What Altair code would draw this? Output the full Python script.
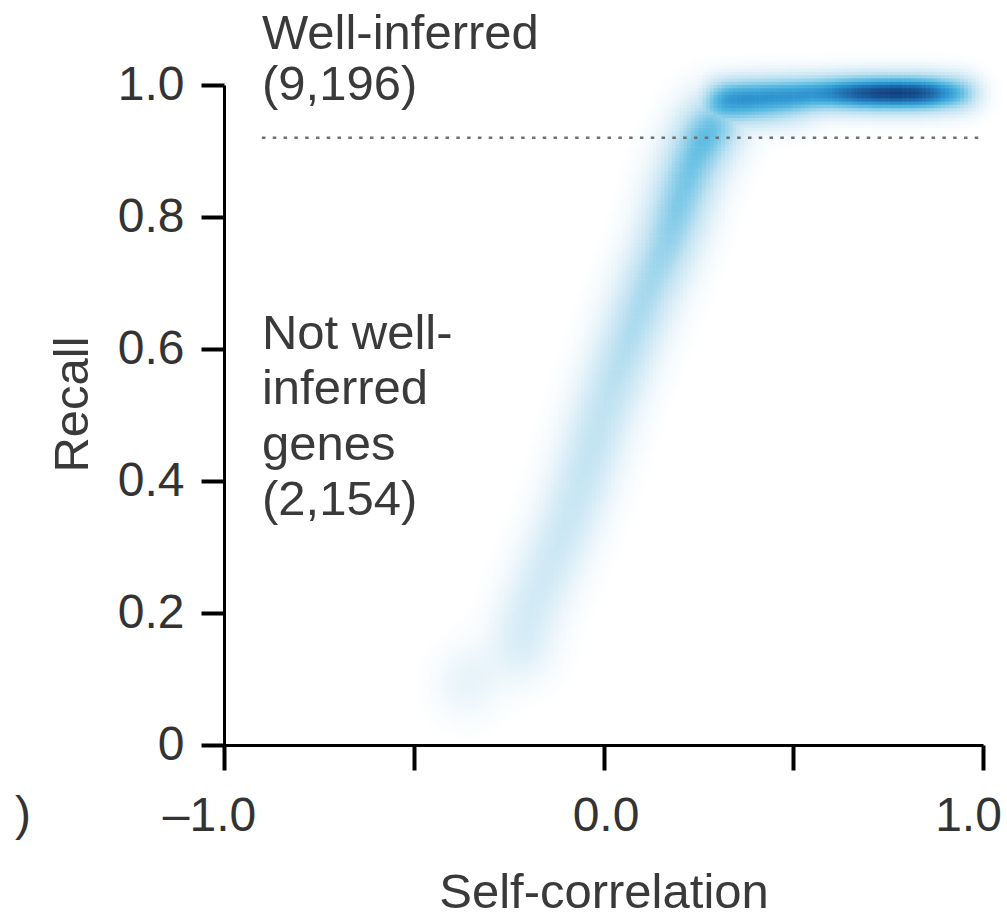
import altair as alt
import numpy as np
import pandas as pd

# ---- values ----
# rising ridge: recall level, self-correlation centre, relative density
rise_recall = [0.08, 0.11, 0.13, 0.16, 0.20, 0.24, 0.28, 0.32, 0.36, 0.40, 0.44, 0.48,
               0.52, 0.56, 0.60, 0.64, 0.68, 0.72, 0.76, 0.80, 0.84, 0.88, 0.92, 0.95]
rise_corr = [-0.37, -0.35, -0.22, -0.22, -0.20, -0.17, -0.14, -0.11, -0.085, -0.06, -0.04, -0.02,
             0.005, 0.03, 0.055, 0.08, 0.105, 0.135, 0.165, 0.185, 0.205, 0.23, 0.26, 0.30]
rise_dens = [0.14, 0.13, 0.16, 0.19, 0.23, 0.25, 0.26, 0.27, 0.28, 0.29, 0.30, 0.31,
             0.33, 0.35, 0.37, 0.39, 0.41, 0.44, 0.47, 0.50, 0.53, 0.56, 0.60, 0.62]
# plateau near recall = 1: self-correlation position, relative density
plat_corr = [0.30, 0.35, 0.40, 0.45, 0.50, 0.55, 0.60, 0.65, 0.70, 0.75, 0.80, 0.85, 0.90, 0.95]
plat_dens = [0.46, 0.50, 0.54, 0.58, 0.63, 0.69, 0.79, 0.90, 0.97, 1.00, 1.00, 0.94, 0.72, 0.58]
plat_recall = 0.985
# lighter shoulder under the plateau, where the ridge bends
bend_corr = [0.27, 0.32, 0.37, 0.42, 0.47, 0.52]
bend_dens = [0.45, 0.43, 0.38, 0.32, 0.25, 0.17]
bend_recall = 0.958

threshold = 0.92
x_ticks = [-1.0, -0.5, 0.0, 0.5, 1.0]
y_ticks = [0.0, 0.2, 0.4, 0.6, 0.8, 1.0]

ann_text = ["Well-inferred", "(9,196)", "Not well-", "inferred", "genes", "(2,154)"]
ann_x = [-0.9] * 6
ann_y = [1.0545, 0.977, 0.600, 0.5167, 0.4318, 0.3485]

# ---- smoothed density table (kernel rendering of the read ridge) ----
xs = np.arange(-0.62, 1.06, 0.01)
ys = np.arange(0.0, 1.07, 0.005)
GX, GY = np.meshgrid(xs, ys)
sxr, syr = 0.06, 0.035
rise = np.zeros_like(GX)
for yc, xc, d in zip(rise_recall, rise_corr, rise_dens):
    rise += d * np.exp(-0.5 * ((GX - xc) / sxr) ** 2 - 0.5 * ((GY - yc) / syr) ** 2)
rise /= 2.507 * syr / 0.04
sxp, syp = 0.035, 0.02
plat = np.zeros_like(GX)
for xc, d in zip(plat_corr, plat_dens):
    plat += d * np.exp(-0.5 * ((GX - xc) / sxp) ** 2 - 0.5 * ((GY - plat_recall) / syp) ** 2)
plat /= 2.507 * sxp / 0.05
bend = np.zeros_like(GX)
for xc, d in zip(bend_corr, bend_dens):
    bend += d * np.exp(-0.5 * ((GX - xc) / 0.04) ** 2 - 0.5 * ((GY - bend_recall) / 0.022) ** 2)
bend /= 2.507 * 0.04 / 0.05
dens = np.clip(np.maximum(rise, plat + bend), 0, 1)
mask = dens > 0.008
cells = pd.DataFrame({
    "x0": GX[mask], "x1": GX[mask] + 0.0115,
    "y0": GY[mask], "y1": GY[mask] + 0.0058,
    "d": dens[mask],
})

rule_df = pd.DataFrame({"x": [-0.9], "x2": [1.0], "y": [threshold]})
ann_df = pd.DataFrame({"x": ann_x, "y": ann_y, "t": ann_text})
edge_df = pd.DataFrame({"x": [-1.53], "y": [-0.129], "t": [")"]})

FONT = "Liberation Sans"
xscale = alt.Scale(domain=[-1, 1], nice=False, zero=False)
yscale = alt.Scale(domain=[0, 1], nice=False, zero=False)
xaxis = alt.Axis(
    values=x_ticks, title="Self-correlation", grid=False,
    labelExpr="datum.value == -1 ? '–1.0' : (datum.value == 0 ? '0.0' : (datum.value == 1 ? '1.0' : ''))",
    labelOverlap=False, labelFlush=False, labelBound=False,
    labelBaseline="alphabetic", labelPadding=60, tickSize=25,
    labelOffset={"condition": {"test": "datum.value == 0", "value": 2}, "value": -15},
    titleBaseline="alphabetic", titleY=162,
)
yaxis = alt.Axis(
    values=y_ticks, title="Recall", grid=False,
    labelExpr="datum.value == 0 ? '0' : format(datum.value, '.1f')",
    labelOverlap=False, labelFlush=False, labelBound=False,
    labelPadding=17, tickSize=23,
    titleBaseline="alphabetic", titleX=-137, titleY=319, titleAngle=-90,
)

heat = alt.Chart(cells).mark_rect(strokeWidth=0).encode(
    x=alt.X("x0:Q", scale=xscale, axis=xaxis),
    x2="x1:Q",
    y=alt.Y("y0:Q", scale=yscale, axis=yaxis),
    y2="y1:Q",
    color=alt.Color(
        "d:Q", legend=None,
        scale=alt.Scale(
            domain=[0, 0.12, 0.3, 0.45, 0.6, 0.75, 0.9, 1.0],
            range=["#ffffff", "#e6f3fa", "#c2e3f2", "#90d0ea", "#4eb6e0",
                   "#2a8fcd", "#1a5fa0", "#0e3f7c"],
            interpolate="rgb",
        ),
    ),
)

rule = alt.Chart(rule_df).mark_rule(
    color="#6f6f6f", strokeWidth=2.5, strokeDash=[3.5, 7.3]
).encode(
    x=alt.X("x:Q", scale=xscale, axis=xaxis),
    x2="x2:Q",
    y=alt.Y("y:Q", scale=yscale, axis=yaxis),
)

ann = alt.Chart(ann_df).mark_text(
    align="left", baseline="alphabetic", font=FONT, fontSize=49, color="#3a3a3a"
).encode(
    x=alt.X("x:Q", scale=xscale, axis=xaxis),
    y=alt.Y("y:Q", scale=yscale, axis=yaxis),
    text="t:N",
)

edge = alt.Chart(edge_df).mark_text(
    align="center", baseline="alphabetic", font=FONT, fontSize=48, color="#333333"
).encode(
    x=alt.X("x:Q", scale=xscale, axis=xaxis),
    y=alt.Y("y:Q", scale=yscale, axis=yaxis),
    text="t:N",
)

chart = alt.layer(heat, rule, ann, edge).properties(
    width=759, height=660,
    autosize=alt.AutoSizeParams(type="none"),
    padding={"left": 224, "top": 85, "right": 24, "bottom": 173},
    background="white",
).configure_view(stroke=None, clip=False).configure_axis(
    domainColor="#000000", domainWidth=3, tickColor="#000000", tickWidth=4,
    labelFont=FONT, labelFontSize=48, labelColor="#333333",
    titleFont=FONT, titleFontSize=49, titleColor="#3a3a3a", titleFontWeight="normal",
)

chart.save("out.html", embed_options={"renderer": "svg", "actions": False})
